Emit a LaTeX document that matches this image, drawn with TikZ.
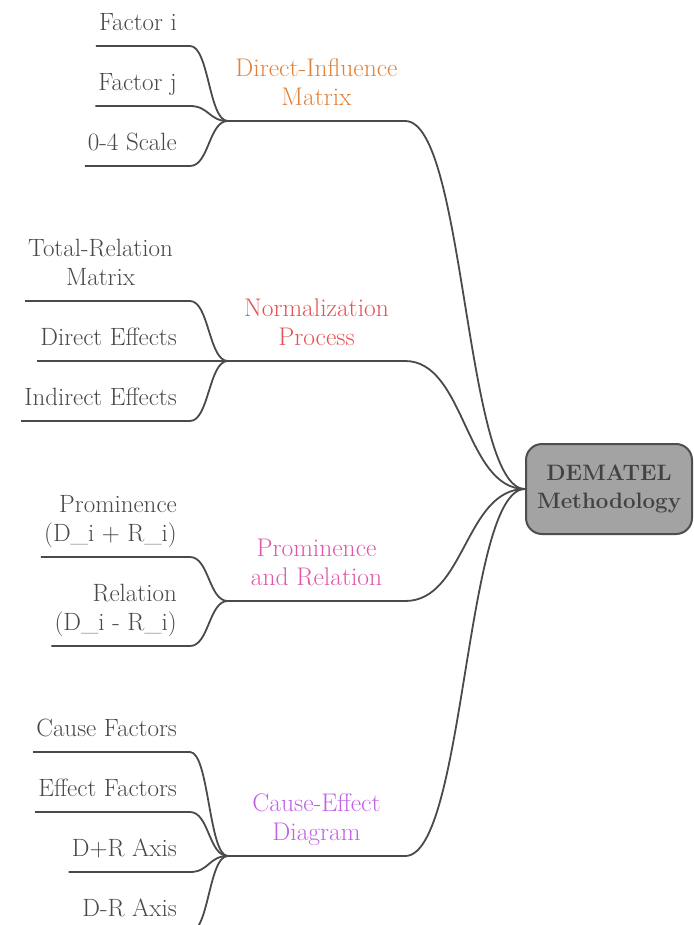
\documentclass[tikz,border=0pt]{standalone}
\usepackage{fontspec}
\usepackage{tikz}
\usetikzlibrary{positioning, calc}
\definecolor{linkgray}{HTML}{4A4A4A}
\definecolor{leaftext}{HTML}{484848}
\definecolor{hubfill}{HTML}{A3A3A3}
\definecolor{hubborder}{HTML}{4E4E4E}
\definecolor{hubtext}{HTML}{424242}
\definecolor{dimcolor}{HTML}{E0823A}
\definecolor{npcolor}{HTML}{E35356}
\definecolor{prcolor}{HTML}{DD58A8}
\definecolor{cecolor}{HTML}{BF62E5}

\begin{document}
\begin{tikzpicture}[
                x=1pt, y=-1pt,
                hub/.style={rectangle, rounded corners=16pt, draw=hubborder, line width=2pt, fill=hubfill, text=hubtext, minimum width=166pt, minimum height=90pt, align=center, font=\fontsize{22.3}{28}\selectfont\bfseries},
                topic/.style={rectangle, anchor=south, minimum width=177pt, inner xsep=0pt, inner ysep=10pt, text depth=5pt, align=center, font=\fontsize{25.5}{29}\selectfont},
                leaf/.style={rectangle, anchor=south east, inner xsep=3pt, inner ysep=10pt, text depth=5pt, text=leaftext, font=\fontsize{25}{29}\selectfont},
                link/.style={draw=linkgray, line width=1.8pt}
            ]%
            \useasboundingbox (0,0) rectangle (693,925);
            \clip (0,0) rectangle (693,925);
            %
            % Central node
            \node[hub] (dematel) at (609,489) {DEMATEL\\Methodology};
            %
            % Topics
            \node[topic, text=dimcolor] (c_dim) at (316.5,121) {Direct-Influence\\Matrix};
            \node[topic, text=npcolor] (c_np) at (316.5,361) {Normalization\\Process};
            \node[topic, text=prcolor] (c_pr) at (316.5,601) {Prominence\\and Relation};
            \node[topic, text=cecolor] (c_ce) at (316.5,856) {Cause-Effect\\Diagram};
            %
            % Leaves of Direct-Influence Matrix
            \node[leaf] (f_i) at (180,46) {Factor i};
            \node[leaf] (f_j) at (180,106) {Factor j};
            \node[leaf] (scale) at (180,166) {0-4 Scale};
            %
            % Leaves of Normalization Process
            \node[leaf, align=center] (t_rel) at (176,301) {Total-Relation\\Matrix};
            \node[leaf] (d_eff) at (180,361) {Direct Effects};
            \node[leaf] (i_eff) at (180,421) {Indirect Effects};
            %
            % Leaves of Prominence and Relation
            \node[leaf, align=right] (prom) at (180,557) {Prominence\\(D\_i + R\_i)};
            \node[leaf, align=right] (rel) at (180,646) {Relation\\(D\_i - R\_i)};
            %
            % Leaves of Cause-Effect Diagram
            \node[leaf] (cause) at (180,752) {Cause Factors};
            \node[leaf] (effect) at (180,812) {Effect Factors};
            \node[leaf] (dr_plus) at (180,872) {D+R Axis};
            \node[leaf] (dr_minus) at (180,932) {D-R Axis};
            %
            % Topics -> central node
            \draw[link] (c_dim.south west) -- (c_dim.south east) .. controls +(60,0) and +(-60,0) .. (dematel.west);
            \draw[link] (c_np.south west) -- (c_np.south east) .. controls +(60,0) and +(-60,0) .. (dematel.west);
            \draw[link] (c_pr.south west) -- (c_pr.south east) .. controls +(60,0) and +(-60,0) .. (dematel.west);
            \draw[link] (c_ce.south west) -- (c_ce.south east) .. controls +(60,0) and +(-60,0) .. (dematel.west);
            %
            % Leaves -> topics
            \draw[link] (f_i.south west) -- ([xshift=10pt]f_i.south east) .. controls +(19,0) and +(-19,0) .. (c_dim.south west);
            \draw[link] (f_j.south west) -- ([xshift=10pt]f_j.south east) .. controls +(19,0) and +(-19,0) .. (c_dim.south west);
            \draw[link] (scale.south west) -- ([xshift=10pt]scale.south east) .. controls +(19,0) and +(-19,0) .. (c_dim.south west);
            %
            \draw[link] (t_rel.south west) -- ([xshift=14pt]t_rel.south east) .. controls +(19,0) and +(-19,0) .. (c_np.south west);
            \draw[link] (d_eff.south west) -- (c_np.south west);
            \draw[link] (i_eff.south west) -- ([xshift=10pt]i_eff.south east) .. controls +(19,0) and +(-19,0) .. (c_np.south west);
            %
            \draw[link] (prom.south west) -- ([xshift=10pt]prom.south east) .. controls +(19,0) and +(-19,0) .. (c_pr.south west);
            \draw[link] (rel.south west) -- ([xshift=10pt]rel.south east) .. controls +(19,0) and +(-19,0) .. (c_pr.south west);
            %
            \draw[link] (cause.south west) -- ([xshift=10pt]cause.south east) .. controls +(19,0) and +(-19,0) .. (c_ce.south west);
            \draw[link] (effect.south west) -- ([xshift=10pt]effect.south east) .. controls +(19,0) and +(-19,0) .. (c_ce.south west);
            \draw[link] (dr_plus.south west) -- ([xshift=10pt]dr_plus.south east) .. controls +(19,0) and +(-19,0) .. (c_ce.south west);
            \draw[link] (dr_minus.south west) -- ([xshift=10pt]dr_minus.south east) .. controls +(19,0) and +(-19,0) .. (c_ce.south west);
        \end{tikzpicture}
\end{document}
